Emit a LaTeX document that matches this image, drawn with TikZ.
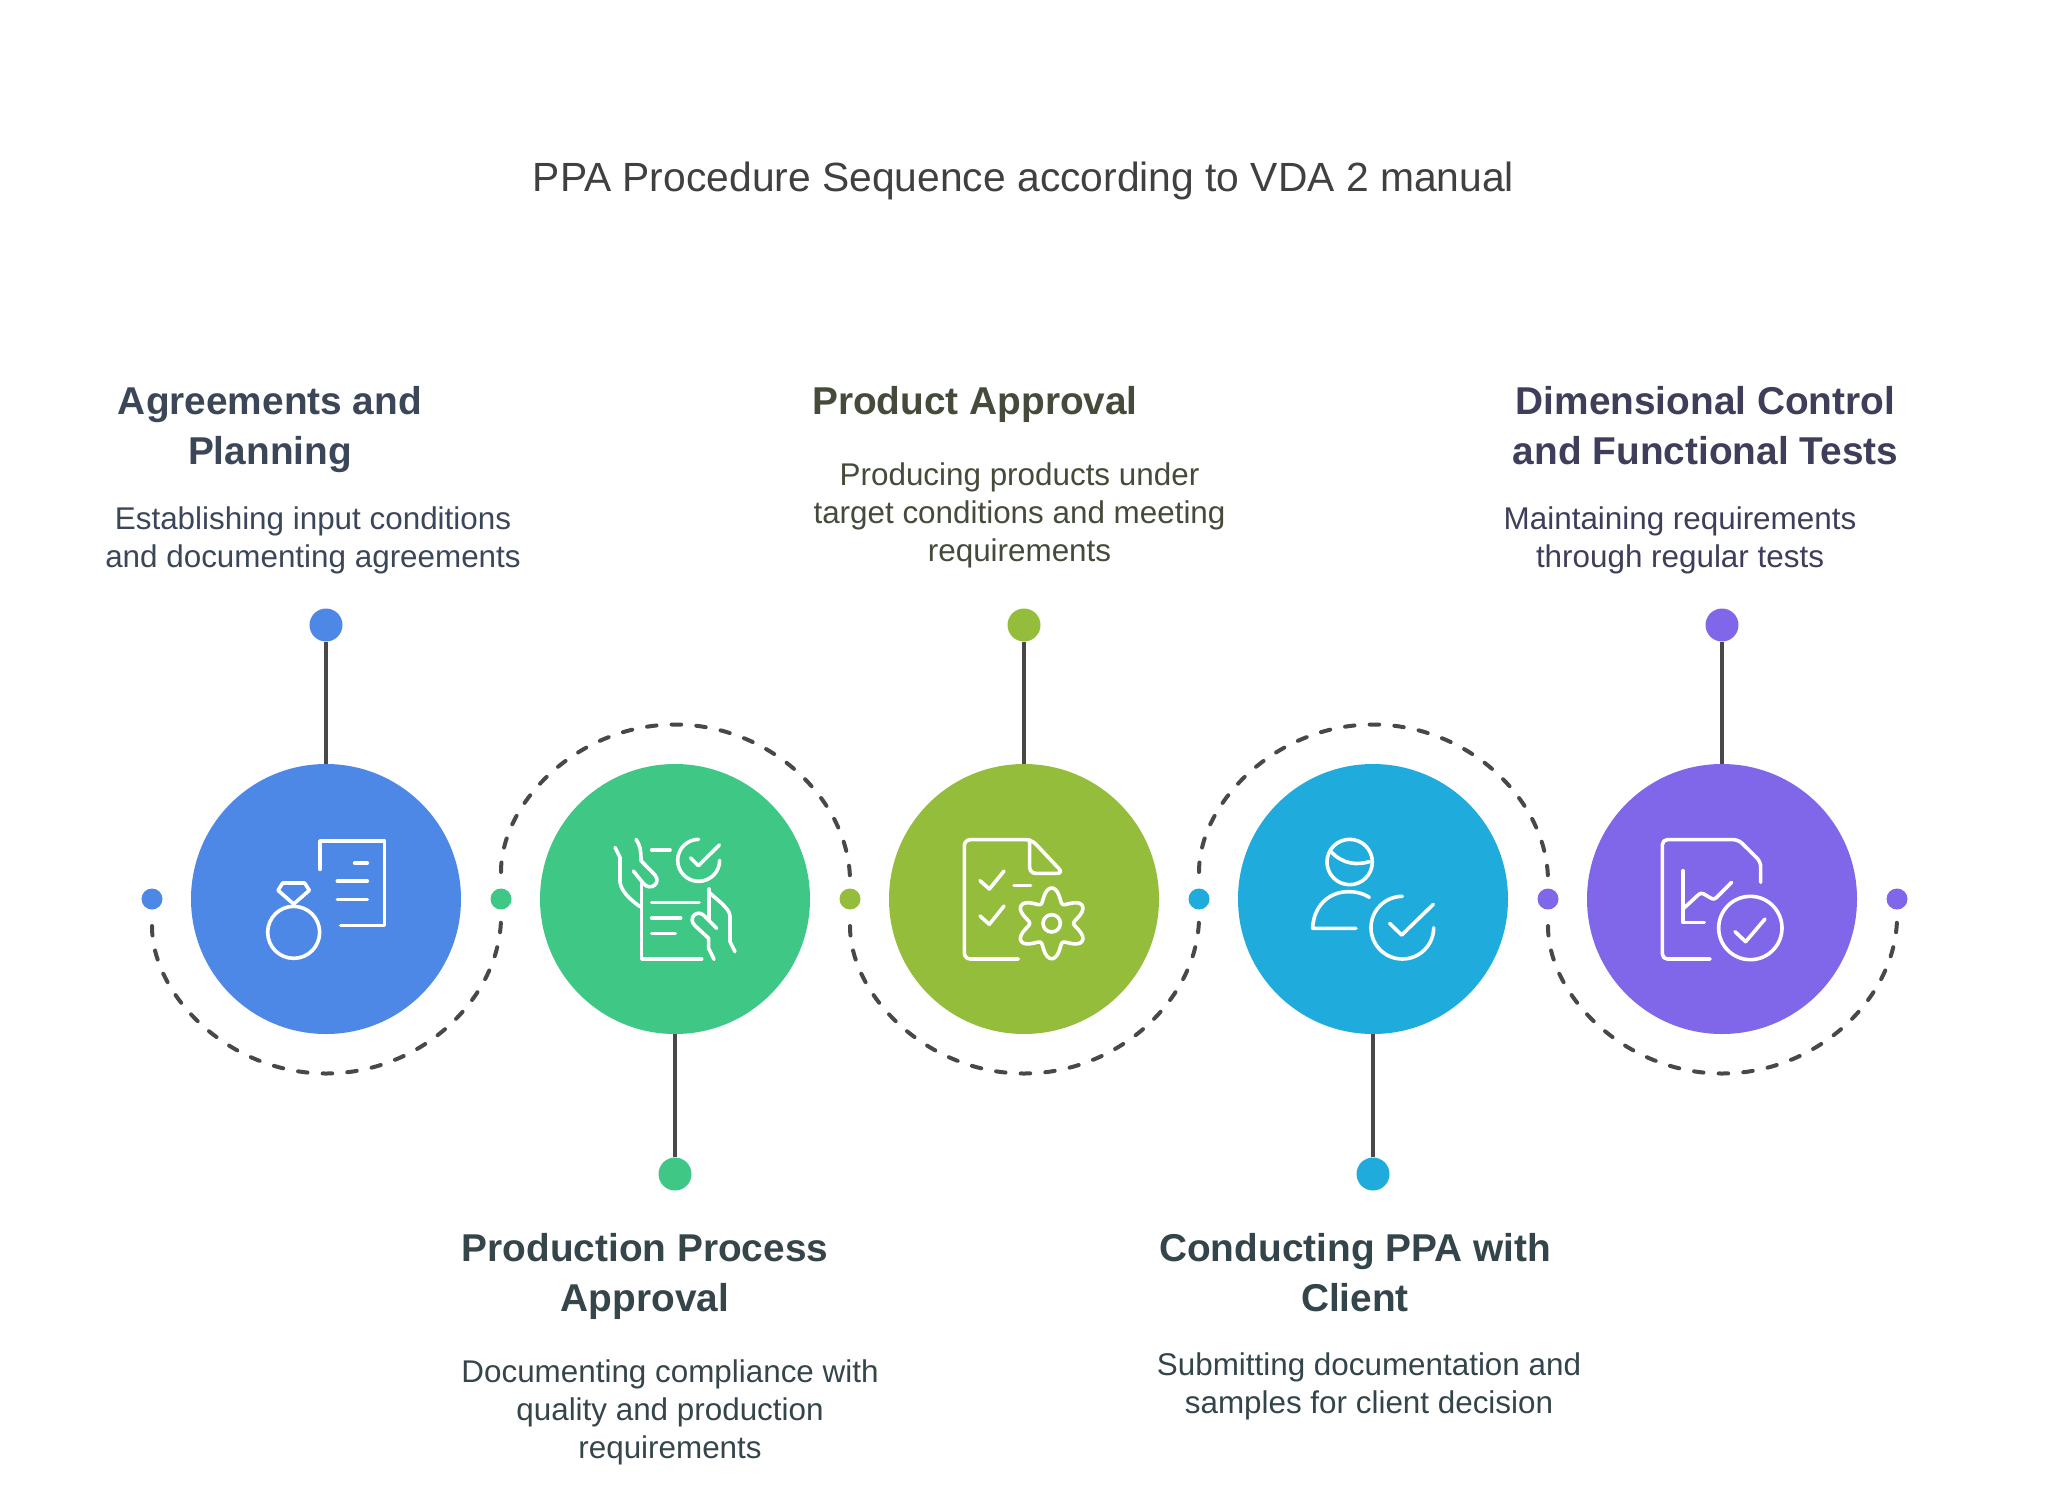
\documentclass[tikz,border=0pt]{standalone}
\usepackage{fontspec}
\setmainfont{Liberation Sans}
\definecolor{agreeblue}{HTML}{4E88E6}
\definecolor{processgreen}{HTML}{3FC786}
\definecolor{productolive}{HTML}{93BD3A}
\definecolor{clientcyan}{HTML}{1FACDC}
\definecolor{testpurple}{HTML}{8066E9}
\definecolor{linegray}{HTML}{484848}
\definecolor{agreetext}{HTML}{3C4659}
\definecolor{processtext}{HTML}{35454A}
\definecolor{producttext}{HTML}{454B3A}
\definecolor{clienttext}{HTML}{33454A}
\definecolor{teststext}{HTML}{3E3D5A}
\tikzset{
  bigdisc/.style={circle,minimum size=270pt,inner sep=0pt},
  smalldot/.style={circle,minimum size=21pt,inner sep=0pt},
  enddot/.style={circle,minimum size=33pt,inner sep=0pt},
  stem/.style={draw=linegray,line width=4.5pt},
  flow/.style={draw=linegray,line width=4pt,line cap=round,dash pattern=on 9.5pt off 15.2pt,shorten <=27pt,shorten >=18pt},
  icon/.style={draw=white,line width=3.6pt,line cap=round,line join=round},
  headtext/.style={font=\fontsize{38.8}{50}\selectfont\bfseries,align=center,inner sep=0pt,anchor=base},
  bodytext/.style={font=\fontsize{31.4}{38}\selectfont,align=center,inner sep=0pt,anchor=base}
}
\begin{document}
\begin{tikzpicture}[x=1pt,y=1pt]
\useasboundingbox (0,0) rectangle (2048,-1500);
\node[font=\fontsize{40.8}{50}\selectfont,text=black!75,inner sep=0pt] (title) at (1023.5,-181) {PPA Procedure Sequence according to VDA 2 manual};
\node[bigdisc,fill=agreeblue] (agree) at (326,-899) {};
\node[bigdisc,fill=processgreen] (process) at (675,-899) {};
\node[bigdisc,fill=productolive] (product) at (1024,-899) {};
\node[bigdisc,fill=clientcyan] (client) at (1373,-899) {};
\node[bigdisc,fill=testpurple] (tests) at (1722,-899) {};
\node[enddot,fill=agreeblue] (agreeend) at (326,-625) {};
\node[enddot,fill=processgreen] (processend) at (675,-1174) {};
\node[enddot,fill=productolive] (productend) at (1024,-625) {};
\node[enddot,fill=clientcyan] (clientend) at (1373,-1174) {};
\node[enddot,fill=testpurple] (testsend) at (1722,-625) {};
\node[smalldot,fill=agreeblue] (dota) at (152,-899) {};
\node[smalldot,fill=processgreen] (dotb) at (501,-899) {};
\node[smalldot,fill=productolive] (dotc) at (850,-899) {};
\node[smalldot,fill=clientcyan] (dotd) at (1199,-899) {};
\node[smalldot,fill=testpurple] (dote) at (1548,-899) {};
\node[smalldot,fill=testpurple] (dotf) at (1897,-899) {};
\coordinate (arca) at (326,-1073.5);
\coordinate (arcb) at (675,-724.5);
\coordinate (arcc) at (1024,-1073.5);
\coordinate (arcd) at (1373,-724.5);
\coordinate (arce) at (1722,-1073.5);
\draw[stem] (agreeend) -- (agree);
\draw[stem] (processend) -- (process);
\draw[stem] (productend) -- (product);
\draw[stem] (clientend) -- (client);
\draw[stem] (testsend) -- (tests);
\draw[flow] (dota.center) to[out=-90,in=180] (arca) to[out=0,in=-90] (dotb.center);
\draw[flow] (dotb.center) to[out=90,in=180] (arcb) to[out=0,in=90] (dotc.center);
\draw[flow] (dotc.center) to[out=-90,in=180] (arcc) to[out=0,in=-90] (dotd.center);
\draw[flow] (dotd.center) to[out=90,in=180] (arcd) to[out=0,in=90] (dote.center);
\draw[flow] (dote.center) to[out=-90,in=180] (arce) to[out=0,in=-90] (dotf.center);
\node[headtext,text=agreetext] (agreehead) at (270,-464) {Agreements and\\Planning};
\node[bodytext,text=agreetext] (agreebody) at (313,-567) {Establishing input conditions\\and documenting agreements};
\node[headtext,text=processtext] (processhead) at (645,-1311) {Production Process\\Approval};
\node[bodytext,text=processtext] (processbody) at (670,-1458) {Documenting compliance with\\quality and production\\requirements};
\node[headtext,text=producttext] (producthead) at (975,-414) {Product Approval};
\node[bodytext,text=producttext] (productbody) at (1019.5,-561) {Producing products under\\target conditions and meeting\\requirements};
\node[headtext,text=clienttext] (clienthead) at (1355,-1311) {Conducting PPA with\\Client};
\node[bodytext,text=clienttext] (clientbody) at (1369,-1413) {Submitting documentation and\\samples for client decision};
\node[headtext,text=teststext] (testshead) at (1705.5,-464) {Dimensional Control\\and Functional Tests};
\node[bodytext,text=teststext] (testsbody) at (1680,-567) {Maintaining requirements\\through regular tests};
\begin{scope}[shift={(130,-740)},xscale=1/3,yscale=-1/3]
\draw[icon] (570,388) -- (570,303) -- (764,303) -- (764,556) -- (632,556);
\draw[icon] (674,369) -- (712,369);
\draw[icon] (622,423) -- (712,423);
\draw[icon] (622,478) -- (712,478);
\draw[icon] (491,577) circle (78);
\draw[icon] (444,451) -- (458,429) -- (524,429) -- (538,451) -- (491,492) -- cycle;
\end{scope}
\begin{scope}[shift={(530,-740)},xscale=1/3,yscale=-1/3]
\draw[icon] (335,430) -- (335,645) -- ++(0,12) -- (515,657);
\draw[icon] (537,447) -- (537,540);
\draw[icon] (560,565) -- (520,525) .. controls (500,508) and (472,535) .. (495,557) -- (536,595) -- (536,625) -- (552,658);
\draw[icon] (537,457) -- (575,490) .. controls (590,505) and (600,515) .. (600,530) -- (600,605) -- (615,635);
\draw[icon] (255,322) -- (270,352) -- (270,425) .. controls (272,450) and (295,475) .. (330,500);
\draw[icon] (318,298) .. controls (330,315) and (333,330) .. (333,362) -- (375,405) .. controls (395,430) and (360,455) .. (340,430) -- (310,393);
\draw[icon] (365,330) -- (420,330);
\draw[icon] (365,487) -- (507,487);
\draw[icon] (365,534) -- (452,534);
\draw[icon] (365,580) -- (436,580);
\draw[icon] (506,298) arc[start angle=270,end angle=0,radius=63];
\draw[icon] (482,354) -- (505,377) -- (568,315);
\end{scope}
\begin{scope}[shift={(880,-740)},xscale=1/3,yscale=-1/3]
\draw[icon,rounded corners=6pt] (415,657) -- (253,657) -- (253,299) -- (455,299) -- (550,400) -- (449,400) -- (449,299);
\draw[icon] (300,422) -- (328,447) -- (372,393);
\draw[icon] (300,528) -- (328,553) -- (372,498);
\draw[icon] (402,437) -- (452,437);
\draw[icon] (515,550) circle (26);
\draw[icon,shift={(515,550)}] plot[domain=0:360,samples=144,smooth cycle] (\x:{86+20*cos(6*\x-180*3)});
\end{scope}
\begin{scope}[shift={(1230,-740)},xscale=1/3,yscale=-1/3]
\draw[icon] (359,366) circle (68);
\draw[icon] (303,335) .. controls (340,375) and (385,375) .. (418,365);
\draw[icon] (418,472) .. controls (395,458) and (375,455) .. (355,455) .. controls (295,455) and (250,500) .. (248,565) -- (378,565);
\draw[icon] (517,469) arc[start angle=270,end angle=0,radius=94];
\draw[icon] (479,550) -- (515,585) -- (610,493);
\end{scope}
\begin{scope}[shift={(1580,-740)},xscale=1/3,yscale=-1/3]
\draw[icon,rounded corners=5pt] (390,657) -- (247,657) -- (247,299) -- (475,299) -- (542,365) -- (542,427);
\draw[icon] (309,392) -- (309,548) -- (373,548);
\draw[icon,rounded corners=3pt] (311,505) -- (363,457) -- (402,480) -- (455,427);
\draw[icon] (511,564) circle (95);
\draw[icon] (465,575) -- (497,605) -- (555,537);
\end{scope}
\end{tikzpicture}
\end{document}
